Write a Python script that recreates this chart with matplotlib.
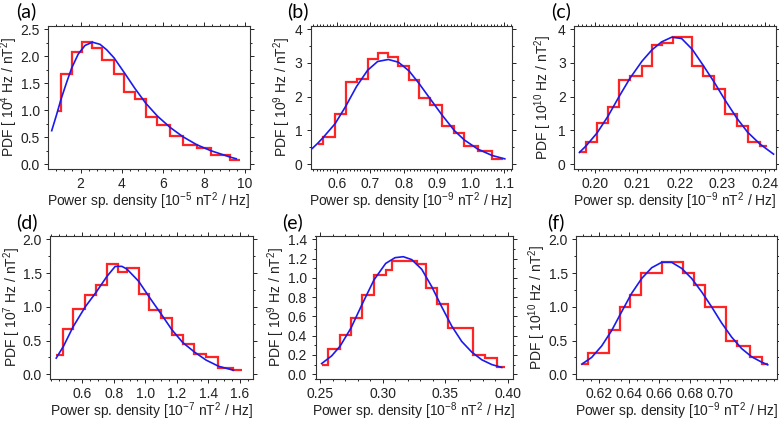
import matplotlib
matplotlib.use("Agg")
import matplotlib.pyplot as plt
from matplotlib import font_manager
from matplotlib.ticker import FixedLocator, AutoMinorLocator, FormatStrFormatter

#pick a narrow sans font if it is there
names = set(f.name for f in font_manager.fontManager.ttflist)
sans = "Liberation Sans Narrow" if "Liberation Sans Narrow" in names else "Liberation Sans"

plt.rcParams["font.family"] = [sans, "DejaVu Sans"]
plt.rcParams["mathtext.fontset"] = "custom"
plt.rcParams["mathtext.rm"] = sans
plt.rcParams["mathtext.default"] = "rm"

#*******************DATA*******************
#(a)
a_edges = [0.84, 1.05, 1.57, 2.09, 2.58, 3.06, 3.63, 4.12, 4.65, 5.17, 5.74, 6.36, 6.97, 7.65, 8.33, 9.28, 9.73]
a_pdf = [0.98, 1.67, 2.07, 2.27, 2.15, 1.93, 1.67, 1.33, 1.21, 0.87, 0.73, 0.53, 0.35, 0.29, 0.17, 0.08]
a_fit_x = [0.60, 0.84, 1.05, 1.33, 1.57, 1.89, 2.22, 2.58, 2.95, 3.27, 3.63, 4.12, 4.65, 5.17, 5.74, 6.36, 6.97, 7.65, 8.33, 9.28, 9.57]
a_fit_y = [0.62, 0.92, 1.20, 1.52, 1.78, 2.04, 2.20, 2.26, 2.22, 2.12, 1.97, 1.70, 1.40, 1.13, 0.89, 0.68, 0.51, 0.36, 0.25, 0.13, 0.10]

#(b)
b_edges = [0.543, 0.560, 0.595, 0.627, 0.659, 0.692, 0.722, 0.754, 0.784, 0.816, 0.845, 0.878, 0.915, 0.951, 0.981, 1.021, 1.064, 1.097]
b_pdf = [0.60, 0.80, 1.50, 2.42, 2.52, 3.10, 3.30, 3.18, 2.90, 2.48, 1.95, 1.75, 1.12, 0.92, 0.55, 0.40, 0.17]
b_fit_x = [0.527, 0.543, 0.560, 0.595, 0.627, 0.659, 0.692, 0.722, 0.754, 0.784, 0.816, 0.845, 0.878, 0.915, 0.951, 0.981, 1.021, 1.064, 1.102]
b_fit_y = [0.47, 0.62, 0.80, 1.20, 1.72, 2.30, 2.78, 3.04, 3.10, 3.02, 2.76, 2.40, 1.95, 1.45, 1.00, 0.72, 0.45, 0.26, 0.16]

#(c)
c_edges = [0.1964, 0.1980, 0.2005, 0.2031, 0.2057, 0.2083, 0.2111, 0.2134, 0.2157, 0.2183, 0.2229, 0.2255, 0.2281, 0.2306, 0.2334, 0.2359, 0.2388, 0.2404]
c_pdf = [0.35, 0.65, 1.22, 1.68, 2.48, 2.60, 2.90, 3.52, 3.58, 3.75, 2.90, 2.60, 2.22, 1.48, 1.12, 0.65, 0.55]
c_fit_x = [0.1964, 0.1980, 0.2005, 0.2031, 0.2057, 0.2083, 0.2111, 0.2134, 0.2157, 0.2181, 0.2204, 0.2229, 0.2255, 0.2281, 0.2306, 0.2334, 0.2359, 0.2388, 0.2420]
c_fit_y = [0.35, 0.55, 0.92, 1.42, 2.00, 2.55, 3.05, 3.38, 3.62, 3.76, 3.72, 3.40, 2.92, 2.42, 1.90, 1.36, 0.95, 0.60, 0.30]

#(d)
d_edges = [0.435, 0.478, 0.541, 0.619, 0.689, 0.756, 0.824, 0.883, 0.957, 1.026, 1.098, 1.168, 1.237, 1.311, 1.385, 1.463, 1.558, 1.611]
d_pdf = [0.28, 0.67, 0.97, 1.17, 1.32, 1.64, 1.52, 1.57, 1.19, 0.95, 0.84, 0.58, 0.45, 0.30, 0.25, 0.10, 0.07]
d_fit_x = [0.435, 0.482, 0.541, 0.619, 0.689, 0.756, 0.809, 0.851, 0.883, 0.957, 1.026, 1.098, 1.168, 1.237, 1.311, 1.385, 1.463, 1.558]
d_fit_y = [0.24, 0.42, 0.70, 1.00, 1.22, 1.45, 1.60, 1.60, 1.56, 1.38, 1.14, 0.90, 0.66, 0.47, 0.33, 0.21, 0.12, 0.06]

#(e)
e_edges = [0.2510, 0.2558, 0.2657, 0.2745, 0.2835, 0.2929, 0.3022, 0.3075, 0.3270, 0.3342, 0.3430, 0.3523, 0.3723, 0.3817, 0.3915, 0.3977]
e_pdf = [0.10, 0.26, 0.41, 0.58, 0.82, 1.03, 1.08, 1.18, 1.14, 0.89, 0.73, 0.48, 0.20, 0.17, 0.07]
e_fit_x = [0.2510, 0.2590, 0.2657, 0.2745, 0.2835, 0.2929, 0.3022, 0.3097, 0.3163, 0.3230, 0.3310, 0.3390, 0.3470, 0.3550, 0.3630, 0.3710, 0.3790, 0.3870, 0.3950]
e_fit_y = [0.11, 0.19, 0.29, 0.48, 0.73, 0.98, 1.15, 1.21, 1.22, 1.19, 1.09, 0.91, 0.70, 0.50, 0.34, 0.23, 0.15, 0.10, 0.07]

#(f)
f_edges = [0.6089, 0.6128, 0.6268, 0.6341, 0.6406, 0.6479, 0.6619, 0.6757, 0.6829, 0.6900, 0.7036, 0.7108, 0.7195, 0.7276, 0.7316]
f_pdf = [0.15, 0.32, 0.66, 1.00, 1.17, 1.50, 1.67, 1.50, 1.33, 1.00, 0.50, 0.42, 0.25, 0.15]
f_fit_x = [0.6089, 0.6154, 0.6220, 0.6286, 0.6352, 0.6417, 0.6483, 0.6549, 0.6615, 0.6680, 0.6746, 0.6812, 0.6878, 0.6943, 0.7009, 0.7075, 0.7141, 0.7206, 0.7272, 0.7312]
f_fit_y = [0.15, 0.25, 0.42, 0.65, 0.93, 1.20, 1.42, 1.58, 1.66, 1.66, 1.57, 1.42, 1.22, 1.00, 0.76, 0.55, 0.38, 0.26, 0.18, 0.14]

#tick labels per panel
a_xticks = [2, 4, 6, 8, 10]
b_xticks = [0.6, 0.7, 0.8, 0.9, 1.0, 1.1]
c_xticks = [0.20, 0.21, 0.22, 0.23, 0.24]
d_xticks = [0.6, 0.8, 1.0, 1.2, 1.4, 1.6]
e_xticks = [0.25, 0.30, 0.35, 0.40]
f_xticks = [0.62, 0.64, 0.66, 0.68, 0.70]

a_yticks = [0.0, 0.5, 1.0, 1.5, 2.0, 2.5]
b_yticks = [0, 1, 2, 3, 4]
c_yticks = [0, 1, 2, 3, 4]
d_yticks = [0.0, 0.5, 1.0, 1.5, 2.0]
e_yticks = [0.0, 0.2, 0.4, 0.6, 0.8, 1.0, 1.2, 1.4]
f_yticks = [0.0, 0.5, 1.0, 1.5, 2.0]

RED = "#ff2424"
BLUE = "#1a1aee"
INK = "#222222"


def panel(rect, edges, pdf, fit_x, fit_y, xlim, ylim, xticks, yticks, xfmt, yfmt,
          xminor, yminor, ylab, xlab, ylab_x, xlab_y, tag, tag_xy):
    ax = fig.add_axes(rect)
    ax.plot(fit_x, fit_y, color=BLUE, lw=1.2, zorder=3)
    ax.stairs(pdf, edges, baseline=None, color=RED, lw=1.6, zorder=2)
    ax.set_xlim(xlim)
    ax.set_ylim(ylim)
    ax.xaxis.set_major_locator(FixedLocator(xticks))
    ax.yaxis.set_major_locator(FixedLocator(yticks))
    ax.xaxis.set_major_formatter(FormatStrFormatter(xfmt))
    ax.yaxis.set_major_formatter(FormatStrFormatter(yfmt))
    ax.xaxis.set_minor_locator(AutoMinorLocator(xminor))
    ax.yaxis.set_minor_locator(AutoMinorLocator(yminor))
    ax.tick_params(which="both", direction="out", top=True, right=True,
                   colors=INK, width=0.7, labelsize=10, pad=3)
    ax.tick_params(axis="x", pad=2.5)
    ax.tick_params(which="major", length=3)
    ax.tick_params(which="minor", length=1.6)
    for s in ax.spines.values():
        s.set_linewidth(0.8)
        s.set_color("#333333")
    ax.set_ylabel(ylab, fontsize=10, color=INK, va="center")
    ax.set_xlabel(xlab, fontsize=10, color=INK, va="center")
    ax.yaxis.set_label_coords(ylab_x, 0.5)
    ax.xaxis.set_label_coords(0.5, xlab_y)
    fig.text(tag_xy[0] / 779, 1 - tag_xy[1] / 422, tag, family="Lato",
             fontsize=14, ha="left", va="center", color="black")
    return ax


fig = plt.figure(figsize=(7.79, 4.22), dpi=100)

panel([48 / 779, 1 - 169 / 422, 202 / 779, 143 / 422], a_edges, a_pdf, a_fit_x, a_fit_y,
      (0.42, 10.24), (-0.09, 2.56), a_xticks, a_yticks, "%d", "%.1f", 5, 2,
      r"PDF [ 10$^{4}$ Hz / nT$^{2}$]", r"Power sp. density [10$^{-5}$ nT$^{2}$ / Hz]",
      -0.19, -0.228, "(a)", (16, 11))

panel([310.5 / 779, 1 - 169 / 422, 201 / 779, 143 / 422], b_edges, b_pdf, b_fit_x, b_fit_y,
      (0.5215, 1.122), (-0.14, 4.09), b_xticks, b_yticks, "%.1f", "%d", 10, 2,
      r"PDF [ 10$^{9}$ Hz / nT$^{2}$]", r"Power sp. density [10$^{-9}$ nT$^{2}$ / Hz]",
      -0.142, -0.228, "(b)", (287, 11))

panel([574 / 779, 1 - 169 / 422, 202 / 779, 143 / 422], c_edges, c_pdf, c_fit_x, c_fit_y,
      (0.19512, 0.24258), (-0.14, 4.09), c_xticks, c_yticks, "%.2f", "%d", 10, 2,
      r"PDF [ 10$^{10}$ Hz / nT$^{2}$]", r"Power sp. density [10$^{-9}$ nT$^{2}$ / Hz]",
      -0.153, -0.228, "(c)", (551, 11))

panel([50 / 779, 1 - 379 / 422, 203 / 779, 143 / 422], d_edges, d_pdf, d_fit_x, d_fit_y,
      (0.3956, 1.682), (-0.07, 2.05), d_xticks, d_yticks, "%.1f", "%.1f", 4, 2,
      r"PDF [ 10$^{7}$ Hz / nT$^{2}$]", r"Power sp. density [10$^{-7}$ nT$^{2}$ / Hz]",
      -0.185, -0.228, "(d)", (16, 222))

panel([315.5 / 779, 1 - 379 / 422, 197.5 / 779, 143 / 422], e_edges, e_pdf, e_fit_x, e_fit_y,
      (0.2461, 0.404), (-0.05, 1.435), e_xticks, e_yticks, "%.2f", "%.1f", 5, 2,
      r"PDF [ 10$^{9}$ Hz / nT$^{2}$]", r"Power sp. density [10$^{-8}$ nT$^{2}$ / Hz]",
      -0.2, -0.228, "(e)", (282, 222))

panel([576.3 / 779, 1 - 379 / 422, 200.7 / 779, 143 / 422], f_edges, f_pdf, f_fit_x, f_fit_y,
      (0.6053, 0.7373), (-0.07, 2.05), f_xticks, f_yticks, "%.2f", "%.1f", 4, 2,
      r"PDF [ 10$^{10}$ Hz / nT$^{2}$]", r"Power sp. density [10$^{-9}$ nT$^{2}$ / Hz]",
      -0.195, -0.228, "(f)", (547, 222))

fig.savefig("out.png", dpi=100)
